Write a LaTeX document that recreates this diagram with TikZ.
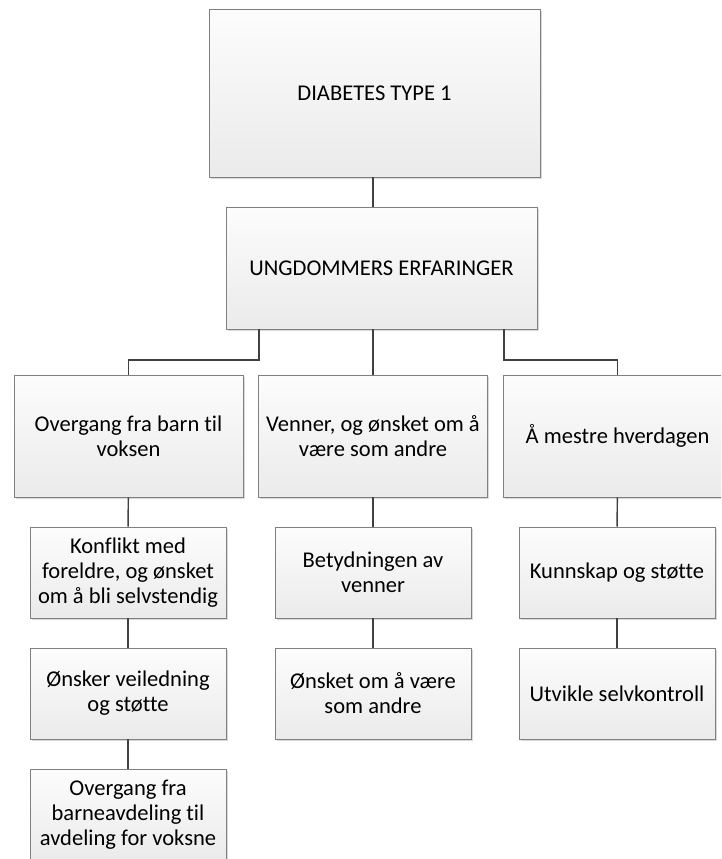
\documentclass[tikz,border=0pt]{standalone}
\usepackage{fontspec}
\setmainfont{Carlito}[Ligatures={NoCommon}]
\usetikzlibrary{shadows}
\usetikzlibrary{positioning}
\usetikzlibrary{calc}

\begin{document}
\begin{tikzpicture}
  [x=0.75pt,y=-0.75pt,
  box/.style={rectangle,draw=black!50,line width=0.6pt,top color=black!1,bottom color=black!8,
    drop shadow={shadow xshift=1.4pt,shadow yshift=-1.4pt,fill=black,opacity=0.15},
    align=center,inner sep=2pt,font=\fontsize{16.9}{18.8}\selectfont},
  bigbox/.style={box,minimum width=331*0.75pt,minimum height=168*0.75pt},
  midbox/.style={box,minimum width=311*0.75pt,minimum height=122*0.75pt},
  tierbox/.style={box,minimum width=229*0.75pt,minimum height=122*0.75pt},
  subbox/.style={box,minimum width=196*0.75pt,minimum height=91*0.75pt},
  link/.style={draw=black!75,line width=1.1pt}]
  \useasboundingbox (0,0) rectangle (721,859);
  \clip (0,0) rectangle (721,859);

  \node[bigbox] (diab) at (374.5,93) {DIABETES TYPE 1};
  \node[midbox] (erf) at (381.5,268) {UNGDOMMERS ERFARINGER};

  \node[tierbox] (overg) at (128.5,436) {Overgang fra barn til\\voksen};
  \node[tierbox] (venner) at (373,436) {Venner, og ønsket om å\\være som andre};
  \node[tierbox] (mestre) at (617.5,436) {Å mestre hverdagen};

  \node[subbox] (konf) at (128,572.5) {Konflikt med\\foreldre, og ønsket\\om å bli selvstendig};
  \node[subbox] (veil) at (128,693.5) {Ønsker veiledning\\og støtte};
  \node[subbox] (avd) at (128,815) {Overgang fra\\barneavdeling til\\avdeling for voksne};

  \node[subbox] (betyd) at (373,572.5) {Betydningen av\\venner};
  \node[subbox] (somandre) at (373,693.5) {Ønsket om å være\\som andre};

  \node[subbox] (kunn) at (617,572.5) {Kunnskap og støtte};
  \node[subbox] (selvk) at (617,693.5) {Utvikle selvkontroll};

  \coordinate (busl) at (259,360);
  \coordinate (busr) at (504,360);

  \draw [link] (diab.south -| venner.north) -- (erf.north -| venner.north);
  \draw [link] (erf.south -| busl) -- (busl) -| (overg.north);
  \draw [link] (erf.south -| venner.north) -- (venner.north);
  \draw [link] (erf.south -| busr) -- (busr) -| (mestre.north);

  \draw [link] (overg) -- (konf);
  \draw [link] (konf) -- (veil);
  \draw [link] (veil) -- (avd);
  \draw [link] (venner) -- (betyd);
  \draw [link] (betyd) -- (somandre);
  \draw [link] (mestre) -- (kunn);
  \draw [link] (kunn) -- (selvk);
\end{tikzpicture}
\end{document}
